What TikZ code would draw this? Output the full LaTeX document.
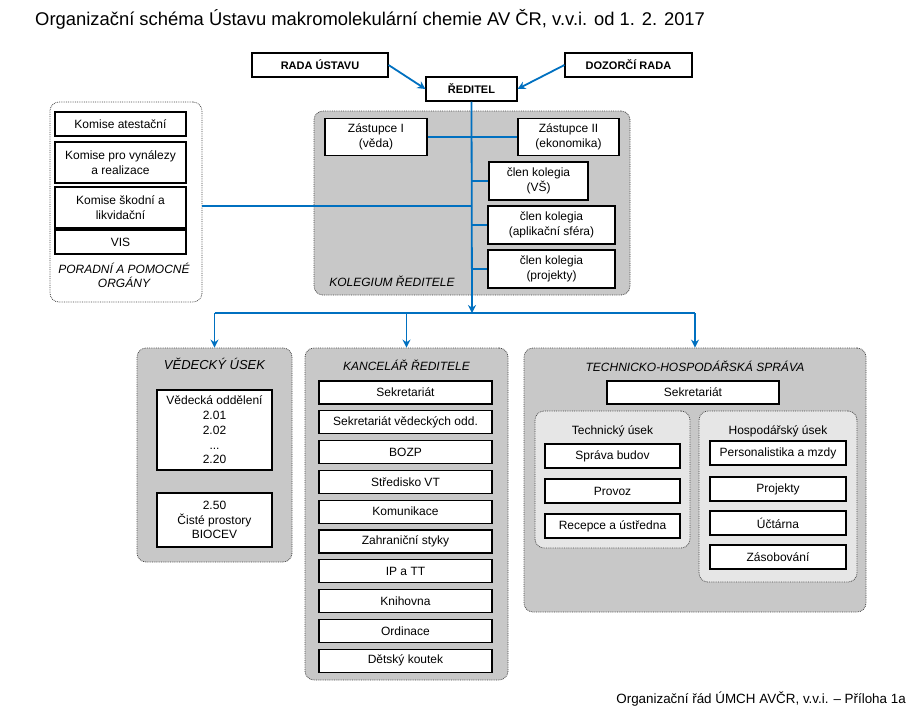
\documentclass[tikz,border=0pt]{standalone}
\usepackage{fontspec}
\setmainfont{Liberation Sans}
\usepackage{tikz}
\usetikzlibrary{calc}
\usetikzlibrary{arrows.meta}
\usetikzlibrary{positioning}
\definecolor{linkblue}{RGB}{0, 112, 192}
\definecolor{groupgray}{RGB}{200, 200, 200}
\definecolor{subgray}{RGB}{230, 230, 230}
\definecolor{dotgray}{RGB}{70, 70, 70}

\tikzset{
    unitbox/.style   = {draw, line width=1.1pt, fill=white, align=center, inner sep=1pt,
                        font=\fontsize{12}{14.7}\selectfont},
    topbox/.style    = {unitbox, font=\fontsize{11}{13}\selectfont\bfseries},
    groupbox/.style  = {draw=dotgray, densely dotted, line width=0.8pt, rounded corners=9pt,
                        fill=groupgray},
    grouptitle/.style= {align=center, font=\fontsize{12}{14}\selectfont\itshape},
    subtitle/.style  = {font=\fontsize{12}{14}\selectfont},
    link/.style      = {linkblue, line width=1.8pt},
    linkarrow/.style = {link, -{Stealth[length=8pt, width=8pt]}},
}

\begin{document}
\begin{tikzpicture}[x=1pt, y=-1pt]
            \useasboundingbox (0,0) rectangle (916,713);
            % Title and footer
            \node[anchor=base west, inner sep=0, font=\fontsize{18.4}{20}\selectfont] (title) at (35,25.7)
                 {Organizační schéma Ústavu makromolekulární chemie AV ČR, v.v.i. od 1. 2. 2017};
            \node[anchor=base east, inner sep=0, font=\fontsize{13.4}{15}\selectfont] (footer) at (906,703)
                 {Organizační řád ÚMCH AVČR, v.v.i. – Příloha 1a};
            % Groups (background)
            \node[groupbox, fill=white, minimum width=152pt, minimum height=200pt] (poradni)   at (126.0,202.0) {};
            \node[groupbox,             minimum width=316pt, minimum height=184pt] (kolegium)  at (472.0,203.0) {};
            \node[groupbox,             minimum width=155pt, minimum height=214pt] (vedecky)   at (214.5,455.0) {};
            \node[groupbox,             minimum width=203pt, minimum height=332pt] (kancelar)  at (406.5,514.0) {};
            \node[groupbox,             minimum width=342pt, minimum height=264pt] (technicko) at (695.0,480.0) {};
            \node[groupbox, fill=subgray, minimum width=155pt, minimum height=137pt] (techusek) at (612.5,479.5) {};
            \node[groupbox, fill=subgray, minimum width=158pt, minimum height=171pt] (hospusek) at (778.0,496.5) {};
            % Top
            \node[topbox, minimum width=136pt, minimum height=24pt] (rada)    at (320.0,65.0) {RADA ÚSTAVU};
            \node[topbox, minimum width=127pt, minimum height=24pt] (dozor)   at (628.5,65.0) {DOZORČÍ RADA};
            \node[topbox, minimum width=91pt,  minimum height=24pt] (reditel) at (471.5,89.0) {ŘEDITEL};
            % Poradni a pomocne organy
            \node[unitbox, minimum width=131pt, minimum height=24pt] (atest) at (120.5,124.0) {Komise atestační};
            \node[unitbox, minimum width=131pt, minimum height=41pt] (vynal) at (120.5,162.5) {Komise pro vynálezy\\a realizace};
            \node[unitbox, minimum width=131pt, minimum height=41pt] (skod)  at (120.5,207.5) {Komise škodní a\\likvidační};
            \node[unitbox, minimum width=131pt, minimum height=24pt] (vis)   at (120.5,242.0) {VIS};
            \node[grouptitle] (poradnilbl) at (124,275) {PORADNÍ A POMOCNÉ\\ORGÁNY};
            % Kolegium reditele
            \node[unitbox, minimum width=102pt, minimum height=37pt] (zast1) at (376.0,137.0) {Zástupce I\\(věda)};
            \node[unitbox, minimum width=101pt, minimum height=37pt] (zast2) at (568.5,137.0) {Zástupce II\\(ekonomika)};
            \node[unitbox, minimum width=99pt,  minimum height=38pt] (clen1) at (538.5,181.0) {člen kolegia\\(VŠ)};
            \node[unitbox, minimum width=127pt, minimum height=38pt] (clen2) at (551.5,225.0) {člen kolegia\\(aplikační sféra)};
            \node[unitbox, minimum width=127pt, minimum height=38pt] (clen3) at (551.5,269.0) {člen kolegia\\(projekty)};
            \node[grouptitle] (kolegiumlbl) at (392,281) {KOLEGIUM ŘEDITELE};
            % Vedecky usek
            \node[grouptitle, font=\fontsize{13}{15}\selectfont\itshape] (vedeckylbl) at (214.5,364) {VĚDECKÝ ÚSEK};
            \node[unitbox, minimum width=115pt, minimum height=80pt] (oddeleni) at (214.5,430.0)
                 {Vědecká oddělení\\2.01\\2.02\\...\\2.20};
            \node[unitbox, minimum width=115pt, minimum height=54pt] (biocev)   at (214.5,520.0)
                 {2.50\\Čisté prostory\\BIOCEV};
            % Kancelar reditele
            \node[grouptitle] (kancelarlbl) at (406.5,365) {KANCELÁŘ ŘEDITELE};
            \foreach \txt [count=\i] in {Sekretariát, Sekretariát vědeckých odd., BOZP, Středisko VT,
                                          Komunikace, Zahraniční styky, IP a TT, Knihovna, Ordinace,
                                          Dětský koutek}
                \node[unitbox, minimum width=173pt, minimum height=23pt] (kr\i) at (405.5,{392.5+29.8*(\i-1)}) {\txt};
            % Technicko-hospodarska sprava
            \node[grouptitle] (technickolbl) at (695,366) {TECHNICKO-HOSPODÁŘSKÁ SPRÁVA};
            \node[unitbox, minimum width=172pt, minimum height=23pt] (thssekr) at (693,392.5) {Sekretariát};
            \node[subtitle] (techlbl) at (612.5,431) {Technický úsek};
            \node[subtitle] (hosplbl) at (778.0,431) {Hospodářský úsek};
            \node[unitbox, minimum width=135pt, minimum height=24pt] (budovy)   at (612.5,456) {Správa budov};
            \node[unitbox, minimum width=135pt, minimum height=24pt] (provoz)   at (612.5,491) {Provoz};
            \node[unitbox, minimum width=135pt, minimum height=24pt] (recepce)  at (612.5,526) {Recepce a ústředna};
            \node[unitbox, minimum width=136pt, minimum height=24pt] (personal) at (778.0,453) {Personalistika a mzdy};
            \node[unitbox, minimum width=136pt, minimum height=24pt] (projekty) at (778.0,489) {Projekty};
            \node[unitbox, minimum width=136pt, minimum height=24pt] (uctarna)  at (778.0,523) {Účtárna};
            \node[unitbox, minimum width=136pt, minimum height=24pt] (zasob)    at (778.0,557) {Zásobování};
            % Connectors
            \coordinate (bus) at (472,313);
            \draw[linkarrow] (rada.east)  -- (reditel.west);
            \draw[linkarrow] (dozor.west) -- (reditel.east);
            \draw[linkarrow] (reditel.south) -- (bus);
            \draw[link] (zast1.east) -- (zast2.west);
            \draw[link] (clen1.west -| reditel.south) -- (clen1.west);
            \draw[link] (clen2.west -| reditel.south) -- (clen2.west);
            \draw[link] (clen3.west -| reditel.south) -- (clen3.west);
            \draw[link] ($(poradni.east |- skod)+(0,-1.5)$) -- ($(skod -| reditel.south)+(0,-1.5)$);
            \draw[link] (vedecky.north |- bus) -- (technicko.north |- bus);
            \draw[linkarrow] (vedecky.north |- bus)   -- (vedecky.north);
            \draw[linkarrow] (kancelar.north |- bus)  -- (kancelar.north);
            \draw[linkarrow] (technicko.north |- bus) -- (technicko.north);
\end{tikzpicture}
\end{document}
